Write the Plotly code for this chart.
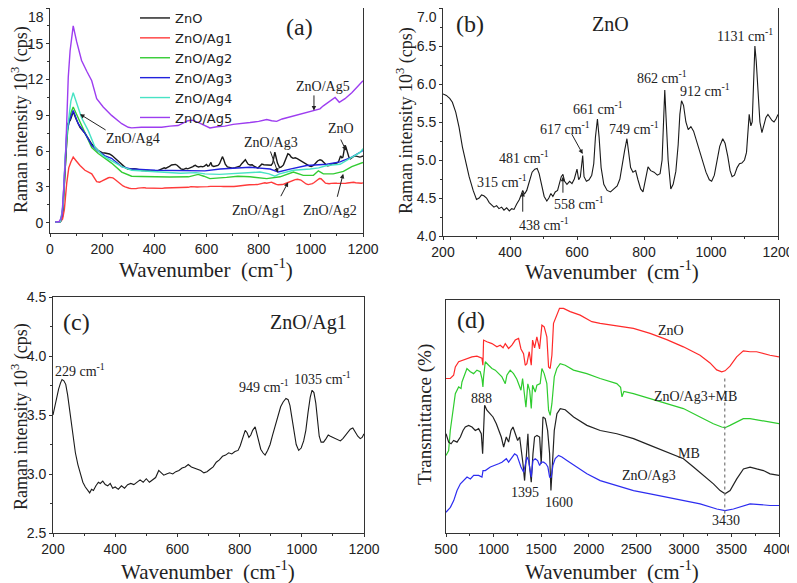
import plotly.graph_objects as go

W, H = 797, 583
OFF = 8  # the page puts the figure 8 px in from the top-left corner

# ---------------- (a)/(b) Raman, ZnO ----------------
ZNO_LOW_X = [20, 40, 48, 55, 62, 68, 78, 89, 100, 115, 134, 160, 185]
ZNO_LOW_Y = [0.05, 0.1, 0.5, 3.0, 6.5, 8.3, 8.6, 9.3, 8.7, 8.0, 7.5, 6.6, 6.05]

ZNO_X = [200, 210, 220, 228, 238, 248, 258, 268, 278, 290, 300, 308, 315, 322, 330,
         338, 345, 352, 360, 367, 375, 382, 390, 398, 405, 412, 420, 428, 434, 438,
         443, 450, 458, 466, 474, 481, 487, 494, 502, 510, 516, 522, 528, 535, 542,
         548, 553, 558, 563, 570, 578, 585, 592, 600, 605, 610, 617, 621, 628, 636,
         644, 650, 655, 661, 666, 672, 680, 690, 700, 710, 720, 728, 735, 742, 749,
         754, 760, 767, 775, 782, 790, 797, 804, 812, 820, 830, 840, 848, 854, 858,
         862, 866, 872, 880, 887, 895, 902, 907, 912, 918, 925, 932, 940, 948, 956,
         965, 975, 985, 995, 1002, 1010, 1018, 1026, 1035, 1042, 1050, 1057, 1063,
         1070, 1078, 1085, 1092, 1100, 1106, 1110, 1114, 1119, 1123, 1127, 1131,
         1135, 1140, 1146, 1152, 1158, 1164, 1170, 1176, 1182, 1188, 1194, 1200]
ZNO_Y = [5.87, 5.85, 5.81, 5.76, 5.63, 5.43, 5.17, 4.96, 4.78, 4.60, 4.48, 4.50,
         4.54, 4.53, 4.50, 4.44, 4.41, 4.38, 4.40, 4.36, 4.38, 4.34, 4.37, 4.33,
         4.36, 4.35, 4.42, 4.48, 4.55, 4.60, 4.55, 4.60, 4.72, 4.84, 4.88, 4.89,
         4.82, 4.68, 4.52, 4.46, 4.50, 4.56, 4.52, 4.58, 4.60, 4.70, 4.78, 4.81,
         4.72, 4.68, 4.72, 4.69, 4.75, 4.88, 4.74, 4.78, 5.06, 4.78, 4.72, 4.74,
         4.80, 4.95, 5.30, 5.54, 5.30, 4.90, 4.68, 4.60, 4.58, 4.62, 4.66, 4.75,
         4.95, 5.12, 5.28, 5.10, 4.90, 4.84, 4.86, 4.74, 4.62, 4.58, 4.74, 4.91,
         4.86, 4.84, 4.80, 4.82, 5.00, 5.50, 5.92, 5.55, 5.00, 4.62, 4.68, 4.85,
         5.20, 5.60, 5.78, 5.72, 5.50, 5.40, 5.44, 5.38, 5.26, 5.14, 5.00, 4.84,
         4.74, 4.72, 4.80, 4.98, 5.18, 5.28, 5.22, 5.05, 4.86, 4.78, 4.80, 4.90,
         4.95, 4.96, 5.00, 5.10, 5.35, 5.60, 5.45, 5.50, 6.00, 6.50, 6.30, 5.85,
         5.50, 5.36, 5.48, 5.56, 5.60, 5.55, 5.52, 5.50, 5.54, 5.60]

# ---------------- (a)/(c) Raman, ZnO/Ag1 ----------------
AG1_LOW_X = [20, 40, 48, 55, 64, 72, 80, 89, 100, 115, 134, 160, 179, 190]
AG1_LOW_Y = [0.05, 0.1, 0.3, 1.1, 3.3, 4.6, 5.1, 5.5, 5.2, 4.8, 4.4, 4.1, 3.45, 3.4]

AG1_X = [200, 206, 212, 218, 224, 229, 235, 241, 247, 253, 259, 265, 272, 280, 288,
         296, 304, 312, 318, 324, 330, 338, 346, 352, 360, 368, 376, 384, 392, 400,
         410, 420, 430, 440, 450, 460, 470, 480, 490, 500, 510, 520, 530, 540, 548,
         556, 565, 575, 585, 595, 605, 615, 625, 635, 645, 655, 665, 675, 685, 695,
         705, 715, 725, 735, 745, 755, 765, 775, 785, 795, 802, 810, 818, 824, 830,
         836, 842, 850, 856, 862, 868, 875, 882, 890, 898, 906, 915, 924, 932, 940,
         949, 956, 962, 968, 975, 982, 990, 998, 1006, 1013, 1020, 1027, 1033, 1039,
         1045, 1050, 1056, 1062, 1070, 1078, 1085, 1092, 1100, 1108, 1116, 1124,
         1132, 1140, 1148, 1156, 1164, 1172, 1180, 1188, 1194, 1200]
AG1_Y = [3.50, 3.58, 3.65, 3.72, 3.77, 3.80, 3.79, 3.76, 3.67, 3.55, 3.42, 3.30,
         3.18, 3.08, 3.00, 2.93, 2.89, 2.86, 2.84, 2.87, 2.86, 2.90, 2.93, 2.92,
         2.94, 2.91, 2.90, 2.92, 2.88, 2.89, 2.87, 2.90, 2.88, 2.91, 2.92, 2.91,
         2.93, 2.95, 2.93, 2.96, 2.93, 2.95, 2.97, 3.03, 3.01, 2.99, 3.00, 3.01,
         3.00, 3.02, 3.03, 3.05, 3.06, 3.08, 3.06, 3.05, 3.04, 3.03, 3.01, 3.02,
         3.04, 3.06, 3.10, 3.12, 3.15, 3.16, 3.18, 3.17, 3.19, 3.20, 3.24, 3.30,
         3.37, 3.35, 3.31, 3.33, 3.37, 3.40, 3.33, 3.26, 3.21, 3.18, 3.16, 3.20,
         3.25, 3.33, 3.42, 3.50, 3.57, 3.61, 3.64, 3.63, 3.58, 3.48, 3.36, 3.25,
         3.20, 3.22, 3.28, 3.37, 3.52, 3.65, 3.71, 3.69, 3.60, 3.45, 3.32, 3.27,
         3.27, 3.30, 3.33, 3.32, 3.31, 3.30, 3.29, 3.28, 3.30, 3.33, 3.36, 3.38,
         3.39, 3.35, 3.32, 3.30, 3.31, 3.34]

# ---------------- (a) other samples ----------------
AG2_X = [20, 40, 50, 58, 64, 70, 80, 89, 108, 134, 160, 185, 211, 236, 275, 313, 350,
         403, 460, 531, 568, 590, 613, 677, 720, 767, 831, 882, 933, 971, 1010, 1029,
         1048, 1086, 1125, 1157, 1200]
AG2_Y = [0.05, 0.1, 1.2, 4.5, 6.8, 8.1, 9.2, 9.7, 8.8, 7.5, 6.3, 5.8, 5.4, 5.0, 4.25,
         3.9, 3.88, 3.85, 3.83, 3.85, 4.05, 3.9, 3.7, 3.8, 3.9, 3.85, 3.7, 3.85, 4.25,
         3.97, 3.97, 4.35, 4.1, 4.1, 4.3, 4.7, 5.05]

AG3_X = [20, 40, 48, 55, 64, 75, 89, 108, 134, 160, 185, 211, 236, 275, 313, 403,
         500, 594, 652, 767, 844, 875, 920, 984, 1061, 1112, 1157, 1200]
AG3_Y = [0.05, 0.1, 1.0, 4.0, 7.5, 8.6, 9.4, 8.3, 7.5, 6.5, 6.0, 5.6, 5.4, 4.7, 4.5,
         4.4, 4.35, 4.35, 4.5, 4.65, 4.5, 4.25, 4.5, 4.8, 4.9, 5.1, 5.5, 6.05]

AG4_X = [20, 40, 50, 58, 65, 73, 80, 89, 102, 121, 147, 173, 204, 236, 275, 313, 403,
         500, 560, 594, 650, 702, 760, 805, 840, 862, 880, 933, 997, 1030, 1061, 1112,
         1150, 1189, 1200]
AG4_Y = [0.05, 0.1, 1.5, 5.5, 7.5, 8.8, 10.2, 10.9, 10.1, 8.8, 7.7, 6.3, 5.6, 5.2,
         4.7, 4.4, 4.25, 4.15, 4.2, 4.1, 4.05, 4.1, 4.15, 4.25, 4.1, 3.9, 4.1, 4.4,
         4.5, 4.6, 4.8, 4.9, 5.4, 5.9, 6.2]

AG5_X = [20, 35, 45, 51, 60, 66, 70, 77, 89, 102, 121, 141, 160, 179, 204, 236, 275,
         300, 313, 350, 400, 428, 460, 491, 529, 545, 570, 590, 613, 640, 670, 702,
         735, 767, 800, 831, 850, 869, 890, 907, 930, 958, 990, 1016, 1035, 1048,
         1073, 1093, 1109, 1131, 1157, 1182, 1200]
AG5_Y = [0.05, 0.1, 0.5, 2.2, 5.8, 9.5, 12.2, 14.4, 16.5, 15.2, 13.6, 12.7, 11.9,
         10.4, 9.7, 9.0, 8.3, 8.0, 7.95, 8.0, 8.0, 8.0, 8.1, 8.15, 8.55, 8.6, 8.4,
         8.2, 7.95, 8.05, 8.1, 8.25, 8.3, 8.4, 8.5, 8.65, 8.55, 8.5, 8.7, 8.8, 8.95,
         9.1, 9.25, 9.4, 9.55, 9.8, 10.2, 10.5, 10.1, 10.4, 10.9, 11.5, 11.9]

RAMAN_NAMES = ["ZnO", "ZnO/Ag1", "ZnO/Ag2", "ZnO/Ag3", "ZnO/Ag4", "ZnO/Ag5"]

# y tick values of the two upper panels
TICKS_A = [0, 3, 6, 9, 12, 15, 18]
TICKS_B = [4.0, 4.5, 5.0, 5.5, 6.0, 6.5, 7.0]

# ---------------- (d) FTIR, transmittance (arb. offset units) ----------------
FT_ZNO_X = [500, 545, 580, 598, 633, 686, 720, 773, 825, 860, 878, 888, 895, 930, 983,
            1035, 1070, 1100, 1123, 1158, 1193, 1228, 1263, 1288, 1315, 1333, 1350,
            1375, 1396, 1410, 1431, 1455, 1483, 1508, 1532, 1560, 1578, 1595, 1613,
            1630, 1658, 1693, 1735, 1805, 1910, 2033, 2120, 2295, 2470, 2645, 2750,
            2820, 2995, 3170, 3275, 3345, 3398, 3433, 3485, 3555, 3625, 3695, 3765,
            3835, 3905, 4000]
FT_ZNO_T = [66.3, 66.3, 67.7, 71.3, 73.5, 74.2, 74.9, 75.6, 75.9, 75.2, 75.0, 72.0,
            82.8, 82.1, 81.3, 79.9, 80.6, 79.5, 81.3, 79.2, 80.6, 82.8, 83.5, 79.0,
            77.0, 72.0, 72.7, 77.8, 72.0, 82.8, 79.5, 84.2, 79.0, 89.2, 88.5, 84.2,
            71.3, 70.6, 76.3, 90.0, 92.8, 96.4, 96.4, 95.0, 93.5, 90.7, 90.0, 89.0,
            87.8, 85.7, 84.2, 83.0, 79.9, 76.3, 73.0, 70.0, 69.2, 69.6, 71.6, 75.6,
            78.2, 77.8, 77.8, 77.0, 76.3, 75.6]

FT_MIX_X = [500, 528, 545, 574, 598, 633, 658, 668, 703, 720, 756, 790, 825, 860, 878,
            888, 895, 913, 948, 983, 1018, 1053, 1088, 1123, 1140, 1175, 1210, 1245,
            1288, 1305, 1320, 1340, 1360, 1380, 1396, 1410, 1438, 1455, 1490, 1508,
            1532, 1560, 1578, 1595, 1613, 1638, 1665, 1700, 1753, 1840, 1980, 2120,
            2295, 2335, 2350, 2370, 2470, 2645, 2820, 2995, 3170, 3310, 3398, 3433,
            3485, 3555, 3625, 3695, 3800, 3905, 4000]
FT_MIX_T = [33.3, 35.4, 44.0, 52.7, 59.8, 62.7, 62.0, 64.8, 69.2, 70.6, 69.2, 68.4,
            69.9, 69.2, 66.3, 62.7, 67.0, 73.5, 72.0, 70.6, 69.9, 68.4, 67.0, 64.1,
            67.7, 69.9, 68.4, 66.0, 61.3, 66.3, 60.0, 54.0, 64.0, 61.0, 53.5, 63.4,
            60.5, 63.4, 64.1, 70.6, 68.4, 64.1, 52.7, 50.5, 55.5, 67.0, 70.6, 72.7,
            72.0, 69.9, 68.4, 66.3, 64.1, 62.5, 58.4, 60.8, 59.8, 57.7, 55.5, 53.4,
            49.8, 46.9, 45.5, 45.2, 46.2, 47.6, 49.1, 49.1, 48.4, 47.6, 46.9]

FT_MB_X = [500, 528, 553, 580, 616, 651, 679, 703, 738, 773, 808, 843, 871, 885, 895,
           906, 930, 959, 994, 1029, 1053, 1081, 1106, 1134, 1158, 1183, 1204, 1228,
           1253, 1274, 1288, 1309, 1326, 1344, 1361, 1375, 1396, 1414, 1431, 1456,
           1484, 1501, 1519, 1543, 1568, 1589, 1603, 1617, 1638, 1666, 1701, 1753,
           1841, 1981, 2121, 2296, 2471, 2646, 2821, 2996, 3101, 3206, 3311, 3381,
           3433, 3486, 3556, 3626, 3696, 3766, 3836, 3906, 4000]
FT_MB_T = [42.6, 39.0, 38.3, 39.7, 39.0, 41.2, 44.0, 45.5, 46.2, 45.5, 44.0, 44.8,
           42.6, 34.0, 44.0, 54.8, 52.7, 51.2, 49.8, 46.9, 44.0, 41.2, 36.9, 41.2,
           39.0, 44.0, 45.5, 42.6, 39.7, 41.2, 36.9, 29.7, 22.5, 32.6, 42.6, 29.7,
           21.8, 34.0, 41.2, 41.9, 41.2, 29.7, 49.8, 49.1, 44.0, 34.0, 18.2, 28.3,
           44.0, 51.2, 53.4, 52.9, 49.8, 46.2, 44.0, 42.6, 40.5, 37.6, 34.7, 31.9,
           28.3, 24.7, 21.1, 18.2, 16.8, 18.2, 23.2, 27.5, 28.3, 27.5, 26.8, 25.4, 24.7]

FT_AG3_X = [500, 546, 581, 616, 651, 686, 721, 756, 791, 843, 878, 889, 913, 966,
            1018, 1053, 1088, 1134, 1158, 1193, 1221, 1246, 1263, 1288, 1316, 1333,
            1351, 1368, 1396, 1414, 1438, 1463, 1484, 1501, 1526, 1550, 1571, 1589,
            1606, 1624, 1648, 1683, 1718, 1771, 1876, 1981, 2121, 2296, 2471, 2646,
            2821, 2996, 3171, 3346, 3433, 3521, 3626, 3696, 3801, 3906, 4000]
FT_AG3_T = [8.9, 11.0, 13.9, 18.2, 21.1, 22.5, 24.0, 23.2, 24.7, 24.7, 24.0, 26.8,
            26.8, 28.3, 29.0, 29.7, 30.4, 31.9, 30.4, 32.6, 34.0, 33.3, 31.1, 28.3,
            26.1, 29.7, 32.6, 31.1, 24.0, 31.1, 31.9, 31.1, 29.0, 30.4, 30.4, 29.7,
            28.3, 24.0, 24.0, 29.0, 31.9, 33.3, 32.6, 31.1, 28.3, 25.4, 22.5, 20.4,
            18.2, 16.8, 15.4, 13.9, 12.5, 10.3, 9.6, 10.3, 11.8, 12.5, 12.2, 11.8, 11.8]

OH_BAND = 3430

# ---------------- style ----------------
SERIF = "Liberation Serif, Times New Roman, serif"
SANS = "Liberation Sans, Arial, sans-serif"
AXC = "#333333"
RAMAN_COLORS = ["#1a1a1a", "#ff3b3b", "#33cc33", "#2222dd", "#48e3c4", "#9d3df0"]
TICKFONT = dict(family=SANS, size=14, color="#222")


def px(x):
    # screen pixel -> paper fraction
    return (x - OFF) / W


def py(y):
    return 1 - (y - OFF) / H


def axis(rng, dtick, minor, domain, anchor, showticklabels=True, ticks="outside",
         fmt=None):
    return dict(
        range=rng, dtick=dtick, domain=domain, anchor=anchor, tickformat=fmt,
        automargin=False, ticklabeloverflow="allow",
        showline=True, linecolor=AXC, linewidth=1, mirror=True,
        ticks=ticks, ticklen=3, tickwidth=1, tickcolor=AXC,
        showticklabels=showticklabels,
        minor=dict(dtick=minor, ticks=ticks, ticklen=2, tickcolor=AXC) if minor else None,
        showgrid=False, zeroline=False,
        tickfont=TICKFONT,
    )


def top_clipped(ticks, fmt):
    # the topmost label sits on the page edge; it is drawn as an annotation instead
    return dict(tickmode="array", tickvals=ticks,
                ticktext=[fmt.format(t) for t in ticks[:-1]] + [""])


fig = go.Figure()

raman_x = [ZNO_LOW_X + ZNO_X, AG1_LOW_X + AG1_X, AG2_X, AG3_X, AG4_X, AG5_X]
raman_y = [ZNO_LOW_Y + ZNO_Y, AG1_LOW_Y + AG1_Y, AG2_Y, AG3_Y, AG4_Y, AG5_Y]
for name, xs, ys, c in zip(RAMAN_NAMES, raman_x, raman_y, RAMAN_COLORS):
    fig.add_trace(go.Scatter(x=xs, y=ys, name=name, mode="lines",
                             line=dict(color=c, width=1.4), xaxis="x", yaxis="y"))

fig.add_trace(go.Scatter(x=ZNO_X, y=ZNO_Y, mode="lines", showlegend=False,
                         line=dict(color="#1a1a1a", width=1.1), xaxis="x2", yaxis="y2"))
fig.add_trace(go.Scatter(x=AG1_X, y=AG1_Y, mode="lines", showlegend=False,
                         line=dict(color="#1a1a1a", width=1.1), xaxis="x3", yaxis="y3"))

for xs, ys, c in [(FT_ZNO_X, FT_ZNO_T, "#ff2a2a"), (FT_MIX_X, FT_MIX_T, "#2ecc2e"),
                  (FT_MB_X, FT_MB_T, "#222222"), (FT_AG3_X, FT_AG3_T, "#2d2df0")]:
    fig.add_trace(go.Scatter(x=xs, y=ys, mode="lines", showlegend=False,
                             line=dict(color=c, width=1.2), xaxis="x4", yaxis="y4"))

# dotted guide through the O-H band
fig.add_shape(type="line", xref="x4", yref="y4", x0=OH_BAND, x1=OH_BAND,
              y0=min(FT_ZNO_T), y1=min(FT_AG3_T) - 2,
              line=dict(color="#777777", width=1.2, dash="dot"))

ann = []


def label(text, x, y, ax="x", size=14, **kw):
    ann.append(dict(text=text, x=x, y=y, xref=ax, yref=ax.replace("x", "y"),
                    showarrow=False, font=dict(family=SERIF, size=size, color="#222"), **kw))


def arrow(x0, y0, x1, y1, ax="x"):
    ann.append(dict(text="", x=x1, y=y1, ax=x0, ay=y0, xref=ax, yref=ax.replace("x", "y"),
                    axref=ax, ayref=ax.replace("x", "y"), showarrow=True,
                    arrowhead=2, arrowsize=0.9, arrowwidth=1, arrowcolor="#222"))


def cm(v):
    return f"{v} cm<sup>-1</sup>"


# (a)
label("(a)", 958, 16.4, size=24)
label("ZnO/Ag4", 318, 7.1)
arrow(219, 7.7, 115, 9.1)
label("ZnO/Ag3", 849, 6.7)
arrow(843, 6.1, 874, 4.2)
label("ZnO", 1116, 7.9)
arrow(1112, 7.1, 1135, 6.05)
label("ZnO/Ag5", 1045, 11.4)
arrow(1012, 10.8, 1012, 9.4)
label("ZnO/Ag1", 801, 1.0)
arrow(882, 2.1, 913, 3.4)
label("ZnO/Ag2", 1074, 1.0)
arrow(1100, 2.05, 1124, 4.1)

# (b)
label("(b)", 281, 6.79, ax="x2", size=24)
label("ZnO", 700, 6.79, ax="x2", size=20)
label(cm(1131), 1101, 6.64, ax="x2")
label(cm(862), 854, 6.09, ax="x2")
label(cm(912), 982, 5.92, ax="x2")
label(cm(661), 662, 5.68, ax="x2")
label(cm(617), 564, 5.42, ax="x2")
arrow(582, 5.36, 617, 5.08, ax="x2")
label(cm(749), 770, 5.42, ax="x2")
label(cm(481), 442, 5.04, ax="x2")
label(cm(315), 376, 4.72, ax="x2")
label(cm(438), 501, 4.16, ax="x2")
arrow(438, 4.3, 438, 4.58, ax="x2")
label(cm(558), 606, 4.44, ax="x2")
arrow(558, 4.55, 558, 4.78, ax="x2")

# (c)
label("(c)", 277, 4.29, ax="x3", size=24)
label("ZnO/Ag1", 1023, 4.28, ax="x3", size=20)
label(cm(229), 287, 3.88, ax="x3")
label(cm(949), 878, 3.75, ax="x3")
label(cm(1035), 1068, 3.81, ax="x3")

# (d)
label("(d)", 763, 91.4, ax="x4", size=24)
label("ZnO", 2863, 87.1, ax="x4")
label("ZnO/Ag3+MB", 3125, 58.4, ax="x4")
label("MB", 3055, 34.0, ax="x4")
label("ZnO/Ag3", 2635, 24.7, ax="x4")
label("888", 878, 57.7, ax="x4")
label("1395", 1333, 17.5, ax="x4")
label("1600", 1683, 13.2, ax="x4")
label(str(OH_BAND), 3440, 5.3, ax="x4")

# top tick labels of (a) and (b), nudged just below the page edge
for text, x in [(str(TICKS_A[-1]), 46), (f"{TICKS_B[-1]:.1f}", 439)]:
    ann.append(dict(text=text, x=px(x), y=py(17), xref="paper", yref="paper",
                    showarrow=False, xanchor="right", yanchor="middle", font=TICKFONT))

# axis titles (screen pixel positions)
XT = "Wavenumber  (cm<sup>-1</sup>)"
YT = "Raman intensity 10<sup>3</sup> (cps)"
for text, x, y, rot, size in [(XT, 206, 269, 0, 21), (XT, 612, 270, 0, 21),
                              (XT, 208, 570, 0, 21), (XT, 612, 570, 0, 21),
                              (YT, 20, 120, -90, 18), (YT, 405, 121, -90, 18),
                              (YT, 20, 417, -90, 18), ("Transmittance (%)", 425, 415, -90, 19)]:
    ann.append(dict(text=text, x=px(x), y=py(y), xref="paper", yref="paper",
                    showarrow=False, textangle=rot, xanchor="center", yanchor="middle",
                    font=dict(family=SERIF, size=size, color="#222")))

fig.update_layout(
    width=W, height=H, margin=dict(l=0, r=0, t=0, b=0, autoexpand=False),
    paper_bgcolor="white", plot_bgcolor="white",
    xaxis=axis([0, 1200], 200, 100, [px(50), px(363)], "y"),
    yaxis={**axis([-0.86, 18], 3, 1.5, [py(233), py(8)], "x"),
           **top_clipped(TICKS_A, "{:d}")},
    xaxis2=axis([200, 1200], 200, 100, [px(443), px(778)], "y2"),
    yaxis2={**axis([4.0, 7.0], 0.5, 0.25, [py(236), py(8)], "x2"),
            **top_clipped(TICKS_B, "{:.1f}")},
    xaxis3=axis([200, 1200], 200, 100, [px(53), px(364)], "y3"),
    yaxis3=axis([2.5, 4.5], 0.5, 0.25, [py(533), py(297)], "x3", fmt=".1f"),
    xaxis4=axis([500, 4000], 500, 250, [px(446), px(779)], "y4"),
    yaxis4=axis([0, 100], 20, None, [py(533), py(300)], "x4",
                showticklabels=False, ticks=""),
    legend=dict(x=px(135), y=py(3), xanchor="left", yanchor="top",
                font=dict(family="DejaVu Sans, sans-serif", size=13, color="#222"),
                bgcolor="rgba(0,0,0,0)", tracegroupgap=0, itemwidth=30),
    annotations=ann,
)

fig.write_html("out.html")
